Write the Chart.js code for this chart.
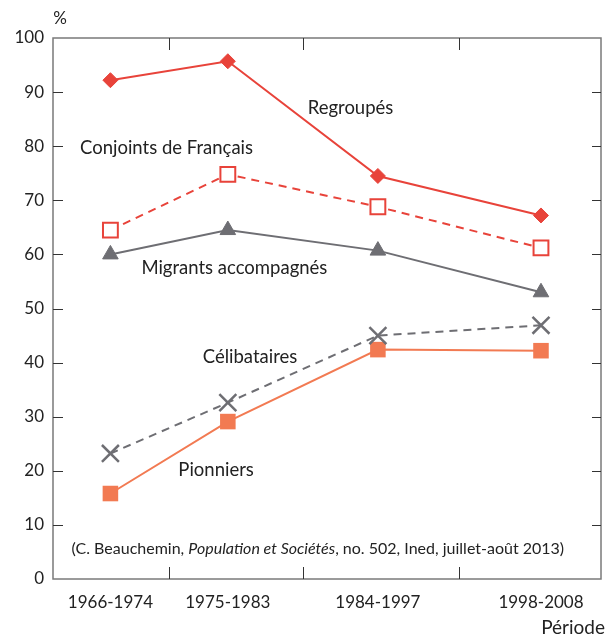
<!DOCTYPE html>
<html>
<head>
<meta charset="utf-8">
<script src="https://cdn.jsdelivr.net/npm/chart.js@4.4.1/dist/chart.umd.min.js"></script>
<style>
  html, body { margin: 0; padding: 0; background: #fff; }
  #wrap { width: 608px; height: 637px; }
</style>
</head>
<body>
<div id="wrap"><canvas id="chart"></canvas></div>
<script>
const periods = ['1966-1974', '1975-1983', '1984-1997', '1998-2008'];
const periodMid = [1970, 1979, 1990.5, 2003];

const regroupes = [92.2, 95.7, 74.5, 67.2];
const conjoints = [64.5, 74.8, 68.8, 61.2];
const migrants = [60.0, 64.5, 60.7, 53.0];
const celibataires = [23.2, 32.6, 45.0, 46.9];
const pionniers = [15.8, 29.1, 42.4, 42.2];

const yTicks = [0, 10, 20, 30, 40, 50, 60, 70, 80, 90, 100];

// labels written in the plot, anchored in data units (year, %)
const notes = [
  { text: 'Regroupés', x: 1988.4, y: 87.1 },
  { text: 'Conjoints de Français', x: 1974.3, y: 79.7 },
  { text: 'Migrants accompagnés', x: 1979.5, y: 57.5 },
  { text: 'Célibataires', x: 1980.7, y: 41.0 },
  { text: 'Pionniers', x: 1978.1, y: 20.1 },
];

const RED = '#e8433a';
const ORANGE = '#f27a52';
const GREY = '#6e6e73';
const FRAME = '#7a7a7a';
const TEXT = '#222222';
const FONT = 'Lato, "Noto Sans", sans-serif';

const toPoints = (values) => values.map((v, i) => ({ x: periodMid[i], y: v }));

const framePlugin = {
  id: 'frame',
  afterDraw(chart) {
    const { ctx, chartArea: a, scales } = chart;
    ctx.save();
    ctx.strokeStyle = FRAME;
    ctx.lineWidth = 1.5;
    ctx.strokeRect(a.left, a.top, a.right - a.left, a.bottom - a.top);

    ctx.strokeStyle = '#333';
    ctx.lineWidth = 1;
    ctx.beginPath();
    yTicks.slice(1, -1).forEach((v) => {
      const py = Math.round(scales.y.getPixelForValue(v)) + 0.5;
      ctx.moveTo(a.left, py);
      ctx.lineTo(a.left + 10, py);
      ctx.moveTo(a.right, py);
      ctx.lineTo(a.right - 9, py);
    });
    for (let i = 0; i < periodMid.length - 1; i++) {
      const px = Math.round(scales.x.getPixelForValue((periodMid[i] + periodMid[i + 1]) / 2)) + 0.5;
      ctx.moveTo(px, a.top);
      ctx.lineTo(px, a.top + 12);
      ctx.moveTo(px, a.bottom);
      ctx.lineTo(px, a.bottom - 12);
    }
    ctx.stroke();

    ctx.fillStyle = TEXT;
    ctx.textBaseline = 'middle';
    ctx.textAlign = 'center';
    ctx.font = '18.5px ' + FONT;
    notes.forEach((n) => {
      ctx.fillText(n.text, scales.x.getPixelForValue(n.x), scales.y.getPixelForValue(n.y));
    });

    // source line, with the journal title in italics
    const parts = [
      ['(C. Beauchemin, ', 'normal'],
      ['Population et Sociétés', 'italic'],
      [', no. 502, Ined, juillet-août 2013)', 'normal'],
    ];
    const size = 16;
    let total = 0;
    parts.forEach(([t, s]) => {
      ctx.font = `${s} ${size}px ${FONT}`;
      total += ctx.measureText(t).width;
    });
    let sx = scales.x.getPixelForValue(1985.9) - total / 2;
    const sy = scales.y.getPixelForValue(5.5);
    ctx.textAlign = 'left';
    parts.forEach(([t, s]) => {
      ctx.font = `${s} ${size}px ${FONT}`;
      ctx.fillText(t, sx, sy);
      sx += ctx.measureText(t).width;
    });

    ctx.font = '17px ' + FONT;
    ctx.textAlign = 'center';
    ctx.fillText('%', a.left + 7, 19);
    ctx.font = '19px ' + FONT;
    ctx.textAlign = 'right';
    ctx.fillText('Période', 605, 628);
    ctx.restore();
  },
};

new Chart(document.getElementById('chart'), {
  type: 'line',
  data: {
    datasets: [
      {
        label: 'Regroupés',
        data: toPoints(regroupes),
        borderColor: RED,
        backgroundColor: RED,
        borderWidth: 2,
        pointStyle: 'rectRot',
        pointRadius: 7.5,
        pointBorderWidth: 1,
      },
      {
        label: 'Conjoints de Français',
        data: toPoints(conjoints),
        borderColor: RED,
        backgroundColor: '#ffffff',
        borderWidth: 2,
        borderDash: [8, 6],
        pointStyle: 'rect',
        pointRadius: 10.5,
        pointBorderWidth: 2,
      },
      {
        label: 'Migrants accompagnés',
        data: toPoints(migrants),
        borderColor: GREY,
        backgroundColor: GREY,
        borderWidth: 2,
        pointStyle: 'triangle',
        pointRadius: 9,
        pointBorderWidth: 1,
      },
      {
        label: 'Célibataires',
        data: toPoints(celibataires),
        borderColor: GREY,
        backgroundColor: GREY,
        borderWidth: 2,
        borderDash: [8, 6],
        pointStyle: 'crossRot',
        pointRadius: 12,
        pointBorderWidth: 2.5,
      },
      {
        label: 'Pionniers',
        data: toPoints(pionniers),
        borderColor: ORANGE,
        backgroundColor: ORANGE,
        borderWidth: 2,
        pointStyle: 'rect',
        pointRadius: 11,
        pointBorderWidth: 0,
      },
    ],
  },
  options: {
    responsive: true,
    maintainAspectRatio: false,
    animation: false,
    layout: { autoPadding: false, padding: { top: 38, right: 7, left: 0, bottom: 0 } },
    plugins: { legend: { display: false }, tooltip: { enabled: false } },
    scales: {
      x: {
        type: 'linear',
        min: 1965.6,
        max: 2007.6,
        afterBuildTicks: (scale) => {
          scale.ticks = periodMid.map((v) => ({ value: v }));
        },
        afterFit: (scale) => {
          scale.height = 58;
          scale.paddingLeft = 0;
          scale.paddingRight = 0;
        },
        ticks: {
          autoSkip: false,
          maxRotation: 0,
          padding: 13,
          color: TEXT,
          font: { family: FONT, size: 17 },
          callback: (value, index) => periods[index],
        },
        grid: { display: false, drawTicks: false },
        border: { display: false },
      },
      y: {
        min: 0,
        max: 100,
        afterBuildTicks: (scale) => {
          scale.ticks = yTicks.map((v) => ({ value: v }));
        },
        afterFit: (scale) => {
          scale.width = 53;
          scale.paddingTop = 0;
          scale.paddingBottom = 0;
        },
        ticks: {
          padding: 9,
          color: TEXT,
          font: { family: FONT, size: 17 },
        },
        grid: { display: false, drawTicks: false },
        border: { display: false },
      },
    },
  },
  plugins: [framePlugin],
});
</script>
</body>
</html>
